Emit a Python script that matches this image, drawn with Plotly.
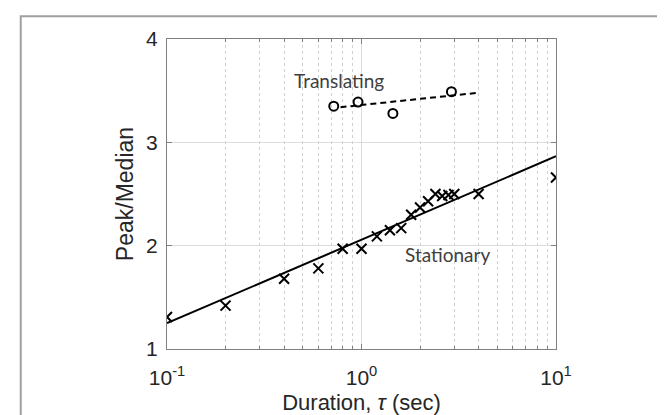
import plotly.graph_objects as go

# Stationary data (crosses)
stat_x = [0.1, 0.2, 0.4, 0.6, 0.8, 1.0, 1.2, 1.4, 1.6, 1.8, 2.0, 2.2, 2.4, 2.6, 2.8, 3.0, 4.0, 10.0]
stat_y = [1.31, 1.42, 1.68, 1.78, 1.97, 1.97, 2.09, 2.15, 2.17, 2.30, 2.37, 2.43, 2.50, 2.48, 2.49, 2.50, 2.50, 2.66]
stat_fit_x = [0.1, 10.0]
stat_fit_y = [1.25, 2.865]

# Translating data (circles)
trans_x = [0.72, 0.96, 1.45, 2.9]
trans_y = [3.35, 3.39, 3.28, 3.49]
trans_fit_x = [0.78, 4.0]
trans_fit_y = [3.34, 3.48]

x_tickvals = [0.1, 1, 10]
x_ticktext = ["10<sup>-1</sup>", "10<sup>0</sup>", "10<sup>1</sup>"]
y_tickvals = [1, 2, 3, 4]
x_minor = [0.2, 0.3, 0.4, 0.5, 0.6, 0.7, 0.8, 0.9, 2, 3, 4, 5, 6, 7, 8, 9]

fig = go.Figure()
fig.add_trace(go.Scatter(x=stat_fit_x, y=stat_fit_y, mode="lines",
                         line=dict(color="black", width=2), showlegend=False))
fig.add_trace(go.Scatter(x=trans_fit_x, y=trans_fit_y, mode="lines",
                         line=dict(color="black", width=2, dash="6px,4px"), showlegend=False))
fig.add_trace(go.Scatter(x=stat_x, y=stat_y, mode="markers",
                         marker=dict(symbol="x-thin", size=10, line=dict(color="black", width=2)),
                         showlegend=False))
fig.add_trace(go.Scatter(x=trans_x, y=trans_y, mode="markers",
                         marker=dict(symbol="circle-open", size=9, color="black", line=dict(width=2)),
                         showlegend=False))

fig.add_annotation(x=-0.1157, y=3.60, xref="x", yref="y", text="Translating", showarrow=False,
                   font=dict(family="Lato", size=19, color="#404040"))
fig.add_annotation(x=0.4396, y=1.91, xref="x", yref="y", text="Stationary", showarrow=False,
                   font=dict(family="Lato", size=19, color="#404040"))

# outer figure border
fig.add_shape(type="rect", xref="paper", yref="paper", x0=-0.376, x1=1.2956, y0=-0.3, y1=1.0737,
              line=dict(color="#a0a0a0", width=2), fillcolor="rgba(0,0,0,0)", layer="below")

fig.update_layout(
    width=665, height=415,
    margin=dict(l=159, r=117, t=31, b=72),
    paper_bgcolor="white", plot_bgcolor="white",
    font=dict(family="Liberation Sans, Arial", size=19, color="#262626"),
    xaxis=dict(
        type="log", range=[-1, 1],
        tickvals=x_tickvals, ticktext=x_ticktext,
        ticks="inside", ticklen=5, tickcolor="#808080",
        ticklabelstandoff=10,
        showline=True, linecolor="#808080", linewidth=1, mirror="allticks",
        showgrid=True, gridcolor="#dcdcdc", gridwidth=1,
        zeroline=False,
        tickfont=dict(size=21),
        minor=dict(tickvals=x_minor, ticks="inside", ticklen=3, tickcolor="#808080",
                   showgrid=True, gridcolor="#d0d0d0", griddash="dot", gridwidth=1),
        title=dict(text="Duration, <i>τ</i> (sec)", font=dict(size=22), standoff=6),
    ),
    yaxis=dict(
        range=[1, 4], tickvals=y_tickvals,
        ticks="inside", ticklen=5, tickcolor="#808080",
        ticklabelstandoff=4,
        showline=True, linecolor="#808080", linewidth=1, mirror="allticks",
        showgrid=True, gridcolor="#dcdcdc", gridwidth=1,
        zeroline=False,
        tickfont=dict(size=21),
        title=dict(text="Peak/Median", font=dict(size=23), standoff=6),
    ),
)

fig.write_html("out.html")
